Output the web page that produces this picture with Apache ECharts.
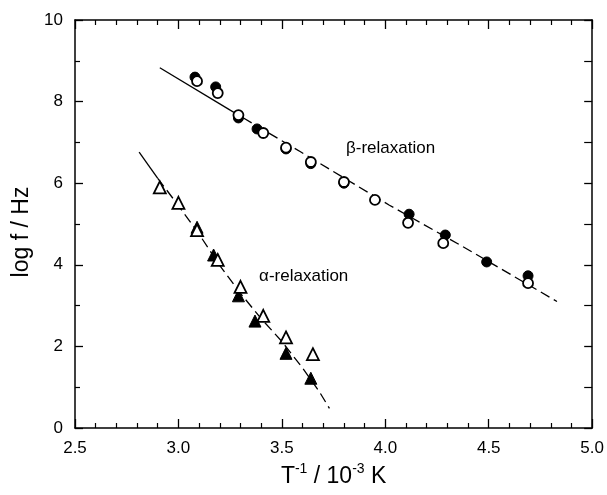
<!DOCTYPE html>
<html>
<head>
<meta charset="utf-8">
<script src="https://cdn.jsdelivr.net/npm/echarts@6/dist/echarts.min.js"></script>
<style>
html,body{margin:0;padding:0;background:#fff;}
#chart{width:607px;height:495px;}
</style>
</head>
<body>
<div id="chart"></div>
<script>
// ---- data ----
// beta relaxation (circles)
const betaFilledX = [3.08, 3.18, 3.29, 3.38, 3.52, 3.64, 3.80, 4.115, 4.29, 4.49, 4.69];
const betaFilledY = [8.60, 8.36, 7.60, 7.33, 6.84, 6.48, 6.00, 5.24, 4.73, 4.07, 3.73];
const betaOpenX   = [3.09, 3.19, 3.29, 3.41, 3.52, 3.64, 3.80, 3.95, 4.11, 4.28, 4.69];
const betaOpenY   = [8.50, 8.21, 7.67, 7.23, 6.87, 6.52, 6.03, 5.59, 5.03, 4.53, 3.55];
// alpha relaxation (triangles)
const alphaFilledX = [3.09, 3.17, 3.29, 3.37, 3.52, 3.64];
const alphaFilledY = [4.92, 4.24, 3.24, 2.62, 1.83, 1.22];
const alphaOpenX   = [2.91, 3.00, 3.09, 3.19, 3.30, 3.41, 3.52, 3.65];
const alphaOpenY   = [5.90, 5.52, 4.85, 4.12, 3.46, 2.75, 2.22, 1.81];
// fitted curves
const betaFitSolidX = [2.91, 3.25];
const betaFitSolidY = [8.83, 7.79];
const betaFitDashX  = [3.25, 3.59, 4.02, 4.36, 4.83];
const betaFitDashY  = [7.79, 6.77, 5.46, 4.49, 3.10];
const alphaFitSolidX = [2.81, 2.90];
const alphaFitSolidY = [6.76, 6.12];
const alphaFitDashX  = [2.90, 3.00, 3.10, 3.20, 3.30, 3.40, 3.50, 3.60, 3.68, 3.73];
const alphaFitDashY  = [6.12, 5.45, 4.75, 3.98, 3.30, 2.68, 2.12, 1.47, 0.90, 0.48];
// axes
const xTicks = [2.5, 3.0, 3.5, 4.0, 4.5, 5.0];
const yTicks = [0, 2, 4, 6, 8, 10];
// annotations
const betaLabel = {text: 'β-relaxation', x: 3.81, y: 6.86};
const alphaLabel = {text: 'α-relaxation', x: 3.39, y: 3.72};

const zip = (xs, ys) => xs.map((x, i) => [x, ys[i]]);
const FONT = 'Liberation Sans, Arial, Helvetica, sans-serif';
const ink = '#000';

const chart = echarts.init(document.getElementById('chart'), null, {renderer: 'canvas'});

function xAxisBase(pos, labels) {
  return {
    type: 'value', position: pos,
    min: xTicks[0], max: xTicks[xTicks.length - 1], interval: 0.5,
    axisLine: {show: true, onZero: false, lineStyle: {color: ink, width: 1.5}},
    axisTick: {show: true, inside: true, length: 9, lineStyle: {color: ink, width: 1.3}},
    minorTick: {show: true, splitNumber: 5, length: 5, lineStyle: {color: ink, width: 1.2}},
    splitLine: {show: false},
    axisLabel: {show: labels, margin: 12, fontSize: 17, color: ink, fontFamily: FONT,
      formatter: v => v.toFixed(1)}
  };
}
function yAxisBase(pos, labels) {
  return {
    type: 'value', position: pos,
    min: yTicks[0], max: yTicks[yTicks.length - 1], interval: 2,
    axisLine: {show: true, onZero: false, lineStyle: {color: ink, width: 1.5}},
    axisTick: {show: true, inside: true, length: 8, lineStyle: {color: ink, width: 1.3}},
    minorTick: {show: true, splitNumber: 2, length: labels ? 5 : 8, lineStyle: {color: ink, width: 1.2}},
    splitLine: {show: false},
    axisLabel: {show: labels, margin: 12, fontSize: 17, color: ink, fontFamily: FONT}
  };
}

const xMain = Object.assign(xAxisBase('bottom', true), {
  name: '{t|T}{s|-1}{t| / 10}{s|-3}{t| K}',
  nameLocation: 'middle', nameGap: 34,
  nameTextStyle: {
    rich: {
      t: {fontSize: 23, fontFamily: FONT, color: ink, verticalAlign: 'bottom', lineHeight: 26},
      s: {fontSize: 14, fontFamily: FONT, color: ink, verticalAlign: 'top', lineHeight: 26}
    }
  }
});
const yMain = Object.assign(yAxisBase('left', true), {
  name: 'log f / Hz', nameLocation: 'middle', nameGap: 34,
  nameTextStyle: {fontSize: 23, fontFamily: FONT, color: ink, padding: [0, 16, 0, 0]}
});

const lineBase = (data, dashed) => ({
  type: 'line', data, symbol: 'none', silent: true, z: 1,
  lineStyle: {color: ink, width: 1.3, type: dashed ? [10, 5] : 'solid'}
});
const scat = (data, sym, size, open) => ({
  type: 'scatter', data, symbol: sym, symbolSize: size, z: open ? 4 : 3,
  itemStyle: open ? {color: '#fff', borderColor: ink, borderWidth: 1.8, opacity: 1}
                  : {color: ink, borderColor: ink, borderWidth: 1, opacity: 1}
});

chart.setOption({
  animation: false,
  backgroundColor: '#fff',
  grid: {left: 75, right: 13, top: 20, bottom: 67, containLabel: false},
  xAxis: [xMain, xAxisBase('top', false)],
  yAxis: [yMain, yAxisBase('right', false)],
  series: [
    lineBase(zip(betaFitSolidX, betaFitSolidY), false),
    lineBase(zip(betaFitDashX, betaFitDashY), true),
    lineBase(zip(alphaFitSolidX, alphaFitSolidY), false),
    lineBase(zip(alphaFitDashX, alphaFitDashY), true),
    scat(zip(betaFilledX, betaFilledY), 'circle', 10, false),
    scat(zip(betaOpenX, betaOpenY), 'circle', 10, true),
    scat(zip(alphaFilledX, alphaFilledY), 'triangle', 12, false),
    scat(zip(alphaOpenX, alphaOpenY), 'triangle', 12, true)
  ]
});

function labelGraphic(lbl) {
  const p = chart.convertToPixel({gridIndex: 0}, [lbl.x, lbl.y]);
  return {
    type: 'text', x: p[0], y: p[1], z: 10,
    style: {text: lbl.text, fontSize: 17, fontFamily: FONT, fill: ink,
      textAlign: 'left', textVerticalAlign: 'middle'}
  };
}
chart.setOption({graphic: [labelGraphic(betaLabel), labelGraphic(alphaLabel)]});
</script>
</body>
</html>
